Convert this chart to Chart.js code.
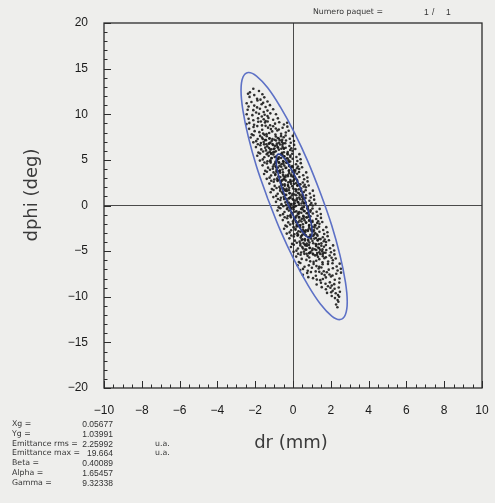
<!DOCTYPE html>
<html>
<head>
<meta charset="utf-8">
<script src="https://cdn.jsdelivr.net/npm/chart.js@4.4.1/dist/chart.umd.min.js"></script>
<style>
  body { margin: 0; background: #eeeeec; }
  #wrap { position: relative; width: 495px; height: 503px; }
  canvas { position: absolute; left: 0; top: 0; }
  .txt { position: absolute; font-family: "DejaVu Sans", sans-serif; font-size: 7.8px; color: #333; white-space: nowrap; line-height: 10px; }
  .val { font-family: "Liberation Sans", sans-serif; font-size: 8.5px; }
  .right { transform: translateX(-100%); }
</style>
</head>
<body>
<div id="wrap">
  <canvas id="phase" width="495" height="503"></canvas>
  <div id="notes"></div>
</div>
<script>
document.addEventListener("DOMContentLoaded", function(){
  // axes
  const xTicks = [-10, -8, -6, -4, -2, 0, 2, 4, 6, 8, 10];
  const yTicks = [-20, -15, -10, -5, 0, 5, 10, 15, 20];
  const xMinor = 0.5;
  const yMinor = 1;

  // rms ellipse (inner) and max ellipse (outer)
  const innerDr   = [-0.42, -0.61, -0.76, -0.86, -0.89, -0.86, -0.76, -0.61, -0.42, -0.19, 0.06, 0.31, 0.54, 0.73, 0.88, 0.98, 1.01, 0.98, 0.88, 0.73, 0.54, 0.31, 0.06, -0.19, -0.42];
  const innerDphi = [0.95, 2.14, 3.26, 4.22, 4.97, 5.45, 5.63, 5.50, 5.06, 4.35, 3.41, 2.32, 1.13, -0.06, -1.18, -2.14, -2.89, -3.37, -3.55, -3.42, -2.98, -2.27, -1.33, -0.24, 0.95];
  const outerDr   = [-1.34, -1.93, -2.37, -2.65, -2.75, -2.65, -2.37, -1.93, -1.34, -0.67, 0.06, 0.79, 1.46, 2.05, 2.49, 2.77, 2.87, 2.77, 2.49, 2.05, 1.46, 0.79, 0.06, -0.67, -1.34];
  const outerDphi = [0.77, 4.28, 7.57, 10.42, 12.63, 14.05, 14.58, 14.19, 12.90, 10.80, 8.04, 4.81, 1.31, -2.20, -5.49, -8.34, -10.55, -11.97, -12.50, -12.11, -10.82, -8.72, -5.96, -2.73, 0.77];

  // particles [dr, dphi]
  const cloudTop = [[-2.10,12.80],[-1.80,12.55],[-2.28,12.40],[-1.62,12.20],[-2.05,12.10],[-2.38,12.25],[-1.52,11.85],[-1.90,11.70],[-2.30,11.90],[-1.72,11.60],[-1.35,11.40],[-2.20,11.35],[-1.88,11.50],[-1.58,11.25],[-2.45,11.20],[-1.22,11.00],[-1.66,11.10],[-2.05,10.95],[-2.35,10.85],[-1.45,10.80],[-1.90,10.75],[-1.05,10.55],[-1.35,10.40],[-1.75,10.60],[-2.10,10.45],[-2.40,10.50],[-1.55,10.25],[-1.95,10.20],[-0.90,10.00],[-1.20,10.10],[-1.50,9.95],[-1.80,10.05],[-2.15,9.90],[-2.45,10.00],[-1.35,9.80],[-1.65,9.75],[-0.80,9.55],[-1.05,9.40],[-1.30,9.60],[-1.55,9.45],[-1.85,9.55],[-2.10,9.35],[-2.35,9.50],[-1.45,9.25],[-1.70,9.20]];

  const cloudUpper = [
    [-2.31,9.05],[-0.48,8.88],[-1.84,9.18],[-0.95,8.97],[-1.48,9.10],[-1.21,8.80],[-2.06,8.85],[-0.73,9.12],[-1.64,8.78],[-1.34,9.21],[-2.46,8.92],[-0.31,9.07],
    [-2.32,8.40],[-0.30,8.64],[-1.89,8.70],[-0.75,8.33],[-1.32,8.53],[-1.05,8.68],[-1.63,8.30],[-0.55,8.52],[-2.09,8.61],[-1.17,8.37],[-1.45,8.73],[-0.91,8.44],
    [-2.03,8.15],[-0.38,8.00],[-1.58,7.88],[-0.83,8.22],[-1.40,7.82],[-1.10,8.12],[-1.78,8.04],[-0.63,7.86],[-2.18,7.80],[-0.23,8.19],[-1.26,7.95],[-0.93,7.77],
    [-2.09,7.70],[-0.17,7.32],[-1.64,7.44],[-0.63,7.60],[-1.24,7.36],[-0.91,7.56],[-1.87,7.28],[-0.39,7.67],[-1.39,7.59],[-1.09,7.29],[-2.24,7.46],[-0.01,7.63],[-1.51,7.74],[-0.81,7.40],[-1.74,7.63],[-0.49,7.48],
    [-1.95,7.05],[-0.12,6.88],[-1.48,7.18],[-0.59,6.97],[-1.12,7.10],[-0.85,6.80],[-1.70,6.85],[-0.37,7.12],[-1.28,6.78],[-0.98,7.21],[-2.10,6.92],[0.05,7.07],[-1.55,6.95],[-0.70,7.15],[-1.20,6.90],[-0.50,6.82],
    [-1.96,6.40],[0.06,6.64],[-1.53,6.70],[-0.39,6.33],[-0.96,6.53],[-0.69,6.68],[-1.27,6.30],[-0.19,6.52],[-1.73,6.61],[-0.81,6.37],[-1.09,6.73],[-0.55,6.44],[-1.36,6.48],[-0.09,6.28],[-1.86,6.71],[-0.86,6.59],
    [-1.68,6.15],[-0.03,6.00],[-1.23,5.88],[-0.48,6.22],[-1.05,5.82],[-0.75,6.12],[-1.43,6.04],[-0.28,5.86],[-1.83,5.80],[0.12,6.19],[-0.91,5.95],[-0.58,5.77],[-1.15,6.16],[-0.15,6.08],[-1.58,5.91],[-0.98,6.24],
    [-1.74,5.70],[0.18,5.32],[-1.29,5.44],[-0.28,5.60],[-0.89,5.36],[-0.56,5.56],[-1.52,5.28],[-0.04,5.67],[-1.04,5.59],[-0.74,5.29],[-1.89,5.46],[0.34,5.63],[-1.16,5.74],[-0.46,5.40],[-1.39,5.63],[-0.14,5.48]
  ];

  const cloudMiddle = [
    [-1.60,5.05],[0.23,4.88],[-1.13,5.18],[-0.24,4.97],[-0.77,5.10],[-0.50,4.80],[-1.35,4.85],[-0.02,5.12],[-0.93,4.78],[-0.63,5.21],[-1.75,4.92],[0.40,5.07],[-1.20,4.95],[-0.35,5.15],[-0.85,4.90],[-0.15,4.82],
    [-1.61,4.40],[0.41,4.64],[-1.18,4.70],[-0.04,4.33],[-0.61,4.53],[-0.34,4.68],[-0.92,4.30],[0.16,4.52],[-1.38,4.61],[-0.46,4.37],[-0.74,4.73],[-0.20,4.44],[-1.01,4.48],[0.26,4.28],[-1.51,4.71],[-0.51,4.59],
    [-1.32,4.15],[0.33,4.00],[-0.87,3.88],[-0.12,4.22],[-0.69,3.82],[-0.39,4.12],[-1.07,4.04],[0.08,3.86],[-1.47,3.80],[0.48,4.19],[-0.55,3.95],[-0.22,3.77],[-0.79,4.16],[0.21,4.08],[-1.22,3.91],[-0.62,4.24],
    [-1.38,3.70],[0.54,3.32],[-0.93,3.44],[0.08,3.60],[-0.53,3.36],[-0.20,3.56],[-1.16,3.28],[0.32,3.67],[-0.68,3.59],[-0.38,3.29],[-1.53,3.46],[0.70,3.63],[-0.80,3.74],[-0.10,3.40],[-1.03,3.63],[0.22,3.48],
    [-1.24,3.05],[0.59,2.88],[-0.77,3.18],[0.12,2.97],[-0.41,3.10],[-0.14,2.80],[-0.99,2.85],[0.34,3.12],[-0.57,2.78],[-0.27,3.21],[-1.39,2.92],[0.76,3.07],[-0.84,2.95],[0.01,3.15],[-0.49,2.90],[0.21,2.82],
    [-1.25,2.40],[0.77,2.64],[-0.82,2.70],[0.32,2.33],[-0.25,2.53],[0.02,2.68],[-0.56,2.30],[0.52,2.52],[-1.02,2.61],[-0.10,2.37],[-0.38,2.73],[0.16,2.44],[-0.65,2.48],[0.62,2.28],[-1.15,2.71],[-0.15,2.59],
    [-0.97,2.15],[0.68,2.00],[-0.52,1.88],[0.23,2.22],[-0.34,1.82],[-0.04,2.12],[-0.72,2.04],[0.43,1.86],[-1.12,1.80],[0.83,2.19],[-0.20,1.95],[0.13,1.77],[-0.44,2.16],[0.56,2.08],[-0.87,1.91],[-0.27,2.24],
    [-1.03,1.70],[0.89,1.32],[-0.58,1.44],[0.43,1.60],[-0.18,1.36],[0.15,1.56],[-0.81,1.28],[0.67,1.67],[-0.33,1.59],[-0.03,1.29],[-1.18,1.46],[1.05,1.63],[-0.45,1.74],[0.25,1.40],[-0.68,1.63],[0.57,1.48],
    [-0.89,1.05],[0.94,0.88],[-0.42,1.18],[0.47,0.97],[-0.06,1.10],[0.21,0.80],[-0.64,0.85],[0.69,1.12],[-0.22,0.78],[0.08,1.21],[-1.04,0.92],[1.11,1.07],[-0.49,0.95],[0.36,1.15],[-0.14,0.90],[0.56,0.82],
    [-0.90,0.40],[1.12,0.64],[-0.47,0.70],[0.67,0.33],[0.10,0.53],[0.37,0.68],[-0.21,0.30],[0.87,0.52],[-0.67,0.61],[0.25,0.37],[-0.03,0.73],[0.51,0.44],[-0.30,0.48],[0.97,0.28],[-0.80,0.71],[0.20,0.59],
    [-0.61,0.15],[1.04,0.00],[-0.16,-0.12],[0.59,0.22],[0.02,-0.18],[0.32,0.12],[-0.36,0.04],[0.79,-0.14],[-0.76,-0.20],[1.19,0.19],[0.16,-0.05],[0.49,-0.23],[-0.08,0.16],[0.92,0.08],[-0.51,-0.09],[0.09,0.24],
    [-0.67,-0.30],[1.25,-0.68],[-0.22,-0.56],[0.79,-0.40],[0.18,-0.64],[0.51,-0.44],[-0.45,-0.72],[1.03,-0.33],[0.03,-0.41],[0.33,-0.71],[-0.82,-0.54],[1.41,-0.37],[-0.09,-0.26],[0.61,-0.60],[-0.32,-0.37],[0.93,-0.52],
    [-0.53,-0.95],[1.30,-1.12],[-0.06,-0.82],[0.83,-1.03],[0.30,-0.90],[0.57,-1.20],[-0.28,-1.15],[1.05,-0.88],[0.14,-1.22],[0.44,-0.79],[-0.68,-1.08],[1.47,-0.93],[-0.13,-1.05],[0.72,-0.85],[0.22,-1.10],[0.92,-1.18],
    [-0.54,-1.60],[1.48,-1.36],[-0.11,-1.30],[1.03,-1.67],[0.46,-1.47],[0.73,-1.32],[0.15,-1.70],[1.23,-1.48],[-0.31,-1.39],[0.61,-1.63],[0.33,-1.27],[0.87,-1.56],[0.06,-1.52],[1.33,-1.72],[-0.44,-1.29],[0.56,-1.41]
  ];

  const cloudLower = [
    [-0.25,-1.85],[1.40,-2.00],[0.20,-2.12],[0.95,-1.78],[0.38,-2.18],[0.68,-1.88],[0.00,-1.96],[1.15,-2.14],[-0.40,-2.20],[1.55,-1.81],[0.52,-2.05],[0.85,-2.23],[0.28,-1.84],[1.28,-1.92],[-0.15,-2.09],[0.45,-1.76],
    [-0.32,-2.30],[1.60,-2.68],[0.13,-2.56],[1.14,-2.40],[0.53,-2.64],[0.86,-2.44],[-0.10,-2.72],[1.38,-2.33],[0.38,-2.41],[0.68,-2.71],[-0.47,-2.54],[1.76,-2.37],[0.26,-2.26],[0.96,-2.60],[0.03,-2.37],[1.28,-2.52],
    [-0.18,-2.95],[1.65,-3.12],[0.29,-2.82],[1.18,-3.03],[0.65,-2.90],[0.92,-3.20],[0.07,-3.15],[1.40,-2.88],[0.49,-3.22],[0.79,-2.79],[-0.33,-3.08],[1.82,-2.93],[0.22,-3.05],[1.07,-2.85],[0.57,-3.10],[1.27,-3.18],
    [-0.19,-3.60],[1.83,-3.36],[0.24,-3.30],[1.38,-3.67],[0.81,-3.47],[1.08,-3.32],[0.50,-3.70],[1.58,-3.48],[0.04,-3.39],[0.96,-3.63],[0.68,-3.27],[1.22,-3.56],[0.41,-3.52],[1.68,-3.72],[-0.09,-3.29],[0.91,-3.41],
    [0.10,-3.85],[1.75,-4.00],[0.55,-4.12],[1.30,-3.78],[0.73,-4.18],[1.03,-3.88],[0.35,-3.96],[1.50,-4.14],[-0.05,-4.20],[1.90,-3.81],[0.87,-4.05],[1.20,-4.23],[0.63,-3.84],[1.63,-3.92],[0.20,-4.09],[0.80,-3.76],
    [0.04,-4.30],[1.96,-4.68],[0.49,-4.56],[1.50,-4.40],[0.89,-4.64],[1.22,-4.44],[0.26,-4.72],[1.74,-4.33],[0.74,-4.41],[1.04,-4.71],[-0.11,-4.54],[2.12,-4.37],[0.62,-4.26],[1.32,-4.60],[0.39,-4.37],[1.64,-4.52],
    [0.18,-4.95],[2.01,-5.12],[0.65,-4.82],[1.54,-5.03],[1.01,-4.90],[1.28,-5.20],[0.43,-5.15],[1.76,-4.88],[0.85,-5.22],[1.15,-4.79],[0.03,-5.08],[2.18,-4.93],[0.58,-5.05],[1.43,-4.85],[0.93,-5.10],[1.63,-5.18],
    [0.17,-5.60],[2.19,-5.36],[0.60,-5.30],[1.74,-5.67],[1.17,-5.47],[1.44,-5.32],[0.86,-5.70],[1.94,-5.48],[0.40,-5.39],[1.32,-5.63],[1.04,-5.27],[1.58,-5.56],[0.77,-5.52],[2.04,-5.72],[0.27,-5.29],[1.27,-5.41]
  ];

  const cloudBottom = [
    [0.46,-5.85],[2.11,-6.00],[0.91,-6.12],[1.66,-5.78],[1.09,-6.18],[1.39,-5.88],[0.71,-5.96],[1.86,-6.14],[0.31,-6.20],[2.26,-5.81],[1.23,-6.05],[1.56,-6.23],
    [0.39,-6.30],[2.31,-6.68],[0.84,-6.56],[1.85,-6.40],[1.24,-6.64],[1.57,-6.44],[0.61,-6.72],[2.09,-6.33],[1.09,-6.41],[1.39,-6.71],[0.24,-6.54],[2.47,-6.37],
    [0.53,-6.95],[2.36,-7.12],[1.00,-6.82],[1.89,-7.03],[1.36,-6.90],[1.63,-7.20],[0.78,-7.15],[2.11,-6.88],[1.20,-7.22],[1.50,-6.79],[0.38,-7.08],[2.53,-6.93],
    [0.52,-7.60],[2.54,-7.36],[0.95,-7.30],[2.09,-7.67],[1.52,-7.47],[1.79,-7.32],[1.21,-7.70],[2.29,-7.48],[0.75,-7.39],[1.67,-7.63],[1.39,-7.27],[1.93,-7.56],
    [0.81,-7.85],[2.46,-8.00],[1.26,-8.12],[2.01,-7.78],[1.44,-8.18],[1.74,-7.88],[1.06,-7.96],[2.21,-8.14],[1.58,-8.05],
    [2.45,-8.45],[2.18,-8.62],[1.95,-8.42],[1.72,-8.58],[1.48,-8.47],[1.25,-8.66],[2.05,-8.78],[1.85,-8.85],
    [2.42,-8.98],[2.20,-9.12],[1.98,-9.02],[1.74,-9.18],[1.52,-8.95],[2.10,-9.35],
    [2.48,-9.45],[2.26,-9.62],[2.02,-9.50],[1.80,-9.58],[2.38,-9.82],
    [2.44,-10.00],[2.22,-10.15],[2.05,-9.92],[2.36,-10.35],
    [2.40,-10.55],[2.28,-10.85],[2.35,-11.15]
  ];

  // denser core along the beam axis
  const cloudCore = [
    [-1.60,7.28],[-0.57,7.19],[-1.25,7.35],[-0.90,7.13],[-1.43,7.16],[-0.75,7.33],
    [-1.41,6.71],[-0.41,6.82],[-1.06,6.64],[-0.74,6.87],[-1.24,6.81],[-0.56,6.67],
    [-1.47,6.34],[-0.49,6.27],[-1.02,6.18],[-0.79,6.36],[-1.20,6.13],[-0.62,6.22],
    [-1.33,5.78],[-0.30,5.69],[-0.98,5.85],[-0.63,5.63],[-1.16,5.66],[-0.48,5.83],
    [-1.14,5.21],[-0.14,5.32],[-0.79,5.14],[-0.47,5.37],[-0.97,5.31],[-0.29,5.17],
    [-1.20,4.84],[-0.22,4.77],[-0.75,4.68],[-0.52,4.86],[-0.93,4.63],[-0.35,4.72],
    [-1.06,4.28],[-0.03,4.19],[-0.71,4.35],[-0.36,4.13],[-0.89,4.16],[-0.21,4.33],
    [-0.88,3.71],[0.12,3.82],[-0.53,3.64],[-0.21,3.87],[-0.71,3.81],[-0.03,3.67],
    [-0.94,3.34],[0.04,3.27],[-0.49,3.18],[-0.26,3.36],[-0.67,3.13],[-0.09,3.22],
    [-0.80,2.78],[0.23,2.69],[-0.45,2.85],[-0.10,2.63],[-0.63,2.66],[0.05,2.83],
    [-0.61,2.21],[0.39,2.32],[-0.26,2.14],[0.06,2.37],[-0.44,2.31],[0.24,2.17],
    [-0.67,1.84],[0.31,1.77],[-0.22,1.68],[0.01,1.86],[-0.40,1.63],[0.18,1.72],
    [-0.53,1.28],[0.50,1.19],[-0.18,1.35],[0.17,1.13],[-0.36,1.16],[0.32,1.33],
    [-0.34,0.71],[0.66,0.82],[0.01,0.64],[0.33,0.87],[-0.17,0.81],[0.51,0.67],
    [-0.40,0.34],[0.58,0.27],[0.05,0.18],[0.28,0.36],[-0.13,0.13],[0.45,0.22],
    [-0.27,-0.22],[0.76,-0.31],[0.08,-0.15],[0.43,-0.37],[-0.10,-0.34],[0.58,-0.17],
    [-0.08,-0.79],[0.92,-0.68],[0.27,-0.86],[0.59,-0.63],[0.09,-0.69],[0.77,-0.83],
    [-0.14,-1.16],[0.84,-1.23],[0.31,-1.32],[0.54,-1.14],[0.13,-1.37],[0.71,-1.28],
    [0.00,-1.72],[1.03,-1.81],[0.35,-1.65],[0.70,-1.87],[0.17,-1.84],[0.85,-1.67],
    [0.19,-2.29],[1.19,-2.18],[0.54,-2.36],[0.86,-2.13],[0.36,-2.19],[1.04,-2.33],
    [0.13,-2.66],[1.11,-2.73],[0.58,-2.82],[0.81,-2.64],[0.40,-2.87],[0.98,-2.78],
    [0.27,-3.22],[1.30,-3.31],[0.62,-3.15],[0.97,-3.37],[0.44,-3.34],[1.12,-3.17],
    [0.46,-3.79],[1.46,-3.68],[0.81,-3.86],[1.13,-3.63],[0.63,-3.69],[1.31,-3.83],
    [0.39,-4.16],[1.37,-4.23],[0.84,-4.32],[1.07,-4.14],[0.66,-4.37],[1.24,-4.28],
    [0.53,-4.72],[1.56,-4.81],[0.88,-4.65],[1.23,-4.87],[0.70,-4.84],[1.38,-4.67],
    [0.72,-5.29],[1.72,-5.18],[1.07,-5.36],[1.39,-5.13],[0.89,-5.19],[1.57,-5.33]
  ];

  // text block
  const statLabels = ["Xg =", "Yg =", "Emittance rms =", "Emittance max =", "Beta =", "Alpha =", "Gamma ="];
  const statValues = ["0.05677", "1.03991", "2.25992", "19.664", "0.40089", "1.65457", "9.32338"];
  const statUnits  = ["", "", "u.a.", "u.a.", "", "", ""];
  const paquet = ["Numero paquet =", "1", "/", "1"];

  const notes = document.getElementById("notes");
  function addText(text, left, top, extra) {
    const d = document.createElement("div");
    d.className = "txt" + (extra ? " " + extra : "");
    d.style.left = left + "px";
    d.style.top = top + "px";
    d.textContent = text;
    notes.appendChild(d);
  }
  statLabels.forEach((lab, i) => {
    const top = 419 + i * 9.8;
    addText(lab, 12, top);
    addText(statValues[i], 113, top, "val right");
    if (statUnits[i]) addText(statUnits[i], 155, top);
  });
  addText(paquet[0], 313, 7);
  addText(paquet[1], 424, 7, "val");
  addText(paquet[2], 432, 7, "val");
  addText(paquet[3], 446, 7, "val");

  const toPoints = (xs, ys) => xs.map((x, i) => ({ x: x, y: ys[i] }));
  const toXY = arr => arr.map(p => ({ x: p[0], y: p[1] }));
  const particles = toXY([].concat(cloudTop, cloudUpper, cloudMiddle, cloudLower, cloudBottom, cloudCore));

  const minus = v => String(v).replace("-", "\u2212");

  const frame = {
    id: "frame",
    afterDatasetsDraw(chart) {
      const c = chart.ctx, a = chart.chartArea;
      const xs = chart.scales.x, ys = chart.scales.y;
      c.save();
      c.strokeStyle = "#2b2b2b";
      c.lineWidth = 1.3;
      c.strokeRect(a.left, a.top, a.right - a.left, a.bottom - a.top);
      c.lineWidth = 1;
      c.beginPath();
      for (let v = xs.min; v <= xs.max + 1e-9; v += xMinor) {
        const px = Math.round(xs.getPixelForValue(v)) + 0.5;
        const len = xTicks.includes(Math.round(v * 100) / 100) ? 7 : 3.5;
        c.moveTo(px, a.bottom);
        c.lineTo(px, a.bottom - len);
      }
      for (let v = ys.min; v <= ys.max + 1e-9; v += yMinor) {
        const py = Math.round(ys.getPixelForValue(v)) + 0.5;
        const len = yTicks.includes(v) ? 7 : 3.5;
        c.moveTo(a.left, py);
        c.lineTo(a.left + len, py);
      }
      c.stroke();
      c.restore();
    },
    afterDraw(chart) {
      const c = chart.ctx;
      c.save();
      c.fillStyle = "#3a3a3a";
      c.font = '18px "DejaVu Sans"';
      c.textAlign = "center";
      c.textBaseline = "middle";
      c.fillText("dr (mm)", 291, 443);
      c.translate(32, 195);
      c.rotate(-Math.PI / 2);
      c.fillText("dphi (deg)", 0, 0);
      c.restore();
    }
  };

  const zeroLine = ctx => (ctx.tick && ctx.tick.value === 0) ? "#4a4a4a" : "rgba(0,0,0,0)";

  new Chart(document.getElementById("phase"), {
    type: "scatter",
    data: {
      datasets: [
        { label: "rms", data: toPoints(innerDr, innerDphi), showLine: true, borderColor: "#2d3f90", borderWidth: 1.6, pointRadius: 0, tension: 0.4, fill: false },
        { label: "max", data: toPoints(outerDr, outerDphi), showLine: true, borderColor: "#5d71c6", borderWidth: 1.6, pointRadius: 0, tension: 0.4, fill: false },
        { label: "particules", data: particles, pointRadius: 1.3, pointBorderWidth: 0, pointBackgroundColor: "rgba(25,25,25,0.9)", showLine: false }
      ]
    },
    options: {
      responsive: false,
      animation: false,
      events: [],
      layout: { padding: { top: 23, right: 13, left: 0, bottom: 0 } },
      plugins: { legend: { display: false }, tooltip: { enabled: false } },
      scales: {
        x: {
          type: "linear", min: -10, max: 10,
          afterBuildTicks: s => { s.ticks = xTicks.map(v => ({ value: v })); },
          afterFit: s => { s.height = 115; s.paddingLeft = 0; s.paddingRight = 0; },
          grid: { drawTicks: false, color: zeroLine, lineWidth: 1 },
          border: { display: false },
          ticks: { padding: 15, color: "#1a1a1a", font: { family: "Liberation Sans", size: 12 }, callback: minus, maxRotation: 0, autoSkip: false }
        },
        y: {
          type: "linear", min: -20, max: 20,
          afterBuildTicks: s => { s.ticks = yTicks.map(v => ({ value: v })); },
          afterFit: s => { s.width = 104; s.paddingTop = 0; s.paddingBottom = 0; },
          grid: { drawTicks: false, color: zeroLine, lineWidth: 1 },
          border: { display: false },
          ticks: { padding: 16, color: "#1a1a1a", font: { family: "Liberation Sans", size: 12 }, callback: minus, autoSkip: false }
        }
      }
    },
    plugins: [frame]
  });
});
</script>
</body>
</html>
